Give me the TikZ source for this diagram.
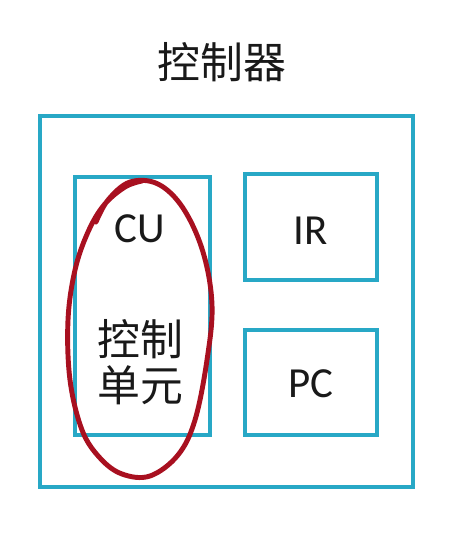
\documentclass[tikz,border=0pt]{standalone}
\usepackage{fontspec}
\setmainfont{Carlito}
\newfontfamily\cjk{Noto Sans CJK SC}
\usetikzlibrary{positioning}
\definecolor{boxcyan}{RGB}{40,168,198}
\definecolor{inkred}{RGB}{168,16,32}
\tikzset{
    mybox/.style = {rectangle, line width=2.5pt, draw=boxcyan, fill=none, inner sep=0pt},
    mytext/.style = {align=center, font=\fontsize{24.4}{26}\selectfont, text=black!90},
    edger/.style = {-, line width=2.8pt, inkred, line cap=round, line join=round}, % hand ring
}

\begin{document}
\begin{tikzpicture}[x=0.02cm, y=-0.02cm]
  \useasboundingbox[fill=white] (0,0) rectangle (458,551);
  \node[mytext] (title) at (222,62) {\cjk 控制器};
  \node[mybox, minimum width=7.46cm, minimum height=7.42cm] (ctrl) at (226.5,301.5) {};
  \node[mybox, minimum width=2.70cm, minimum height=5.16cm] (cubox) at (142.5,306) {};
  \node[mybox, minimum width=2.64cm, minimum height=2.12cm] (irbox) at (311,227) {};
  \node[mybox, minimum width=2.64cm, minimum height=2.10cm] (pcbox) at (311,382.5) {};
  \node[mytext] (cu) at (140,229) {CU};
  \node[mytext] (cuname) at (140,362) {\cjk 控制\\\cjk 单元};
  \node[mytext] (ir) at (311,231) {IR};
  \node[mytext] (pc) at (311,384) {PC};
  \draw[edger] plot[smooth, tension=0.6] coordinates {
    (96,222) (108,200) (130,182) (158,184) (183,208) (203,252) (212,305)
    (207,360) (195,420) (178,455) (150,476) (122,474) (100,458) (82,430)
    (70,380) (68,320) (75,270) (88,232) (104,205) (125,187) (142,181)};
\end{tikzpicture}
\end{document}
